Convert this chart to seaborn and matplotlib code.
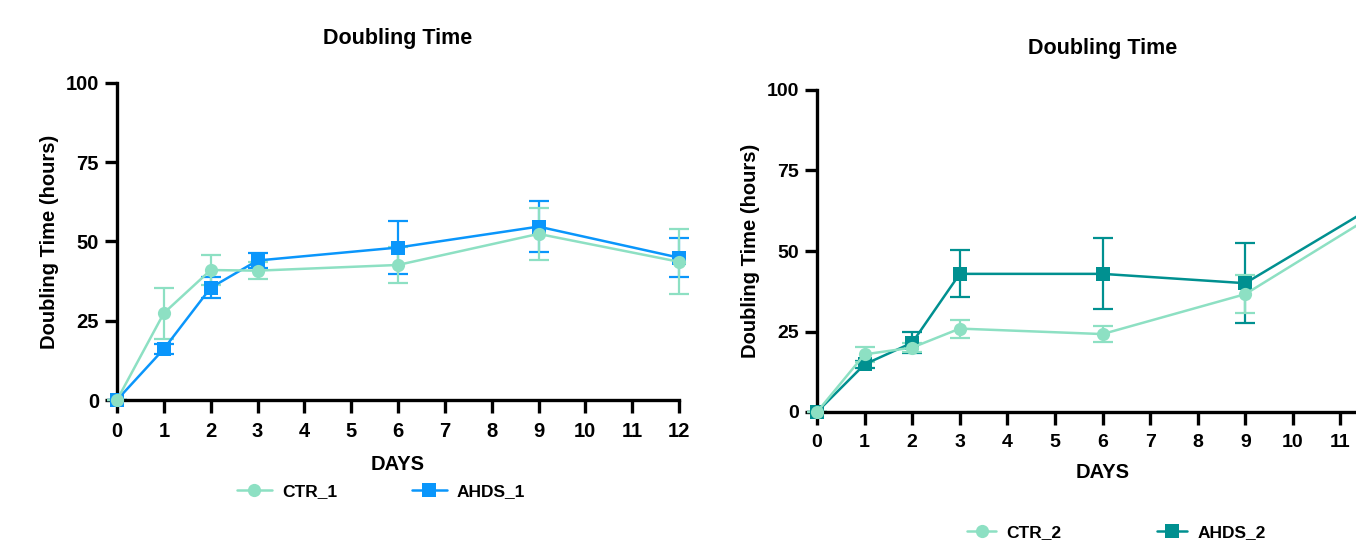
import numpy as np
import pandas as pd
import matplotlib
matplotlib.use("Agg")
import matplotlib.pyplot as plt
import seaborn as sns
from matplotlib.lines import Line2D

sns.set_theme(style="ticks")
plt.rcParams['font.family'] = ['Liberation Sans', 'DejaVu Sans']
plt.rcParams['font.weight'] = 'bold'
plt.rcParams['text.color'] = 'black'
plt.rcParams['axes.labelcolor'] = 'black'
plt.rcParams['xtick.color'] = 'black'
plt.rcParams['ytick.color'] = 'black'

# Panel 1 data (mean, error)
days_1 = [0, 1, 2, 3, 6, 9, 12]
ctr_1 = [0, 27.4, 41.0, 40.8, 42.6, 52.4, 43.6]
ctr_1_err = [0, 8.0, 4.6, 2.6, 5.8, 8.2, 10.2]
ahds_1 = [0, 16.1, 35.4, 44.0, 48.1, 54.7, 44.9]
ahds_1_err = [0, 1.5, 3.3, 2.5, 8.4, 8.0, 6.2]

# Panel 2 data (mean, error)
days_2 = [0, 1, 2, 3, 6, 9, 12]
ctr_2 = [0, 17.9, 20.0, 25.9, 24.2, 36.6, 63.9]
ctr_2_err = [0, 2.4, 1.5, 2.8, 2.4, 5.8, 0]
ahds_2 = [0, 14.8, 21.5, 42.9, 42.9, 40.0, 66.5]
ahds_2_err = [0, 1.0, 3.3, 7.3, 11.0, 12.4, 0]

C_CTR = '#8de0c3'
C_AHDS_1 = '#0a96fb'
C_AHDS_2 = '#009090'

fig = plt.figure(figsize=(13.56, 5.46), dpi=100)
ax1 = fig.add_axes([117 / 1356, 146 / 546, 562 / 1356, 317 / 546])
ax2 = fig.add_axes([817 / 1356, 134 / 546, 571 / 1356, 322 / 546])


def draw_series(ax, days, vals, errs, color, marker, label):
    ax.errorbar(days, vals, yerr=errs, fmt='none', ecolor=color,
                elinewidth=1.6, capsize=7, capthick=1.6, zorder=2)
    df = pd.DataFrame({'day': days, 'val': vals})
    sns.lineplot(data=df, x='day', y='val', ax=ax, color=color, marker=marker,
                 markersize=9.5, markeredgewidth=0, linewidth=1.8,
                 errorbar=None, label=label, legend=False, zorder=3)


def style_axis(ax, tick_size, xticks, xlab_y, title_pad):
    ax.set_xlim(0, 12)
    ax.set_ylim(0, 100)
    ax.set_xticks(xticks)
    ax.set_yticks([0, 25, 50, 75, 100])
    for s in ['top', 'right']:
        ax.spines[s].set_visible(False)
    for s in ['left', 'bottom']:
        ax.spines[s].set_linewidth(2.4)
        ax.spines[s].set_color('black')
    ax.tick_params(axis='both', width=2.4, length=9, color='black',
                   labelsize=tick_size, direction='out', pad=4)
    ax.tick_params(axis='x', pad=7)
    for lab in ax.get_xticklabels() + ax.get_yticklabels():
        lab.set_fontweight('bold')
    ax.set_xlabel('DAYS', fontsize=14.5, fontweight='bold')
    ax.xaxis.set_label_coords(0.5, xlab_y)
    ax.set_ylabel('Doubling Time (hours)', fontsize=14.5, fontweight='bold', labelpad=5)
    ax.set_title('Doubling Time', fontsize=15.5, fontweight='bold', pad=title_pad)
    for line in ax.lines + ax.collections:
        line.set_clip_on(False)


def legend_handles(c2):
    return [Line2D([], [], color=C_CTR, marker='o', markersize=9.5, markeredgewidth=0, linewidth=1.8),
            Line2D([], [], color=c2, marker='s', markersize=9.5, markeredgewidth=0, linewidth=1.8)]


# Panel 1
draw_series(ax1, days_1, ahds_1, ahds_1_err, C_AHDS_1, 's', 'AHDS_1')
draw_series(ax1, days_1, ctr_1, ctr_1_err, C_CTR, 'o', 'CTR_1')
style_axis(ax1, 14.5, range(0, 13), -0.175, 28)
ax1.legend(legend_handles(C_AHDS_1), ['CTR_1', 'AHDS_1'], loc='center',
           bbox_to_anchor=(0.47, -0.29), ncol=2, frameon=False,
           prop={'weight': 'bold', 'size': 12.5},
           handlelength=2.0, handletextpad=0.6, columnspacing=4.3)

# Panel 2
draw_series(ax2, days_2, ahds_2, ahds_2_err, C_AHDS_2, 's', 'AHDS_2')
draw_series(ax2, days_2, ctr_2, ctr_2_err, C_CTR, 'o', 'CTR_2')
style_axis(ax2, 14, range(0, 12), -0.158, 26)
ax2.legend(legend_handles(C_AHDS_2), ['CTR_2', 'AHDS_2'], loc='center',
           bbox_to_anchor=(0.524, -0.373), ncol=2, frameon=False,
           prop={'weight': 'bold', 'size': 12.5},
           handlelength=1.7, handletextpad=0.6, columnspacing=5.5)

fig.savefig('out.png', dpi=100, facecolor='white')
